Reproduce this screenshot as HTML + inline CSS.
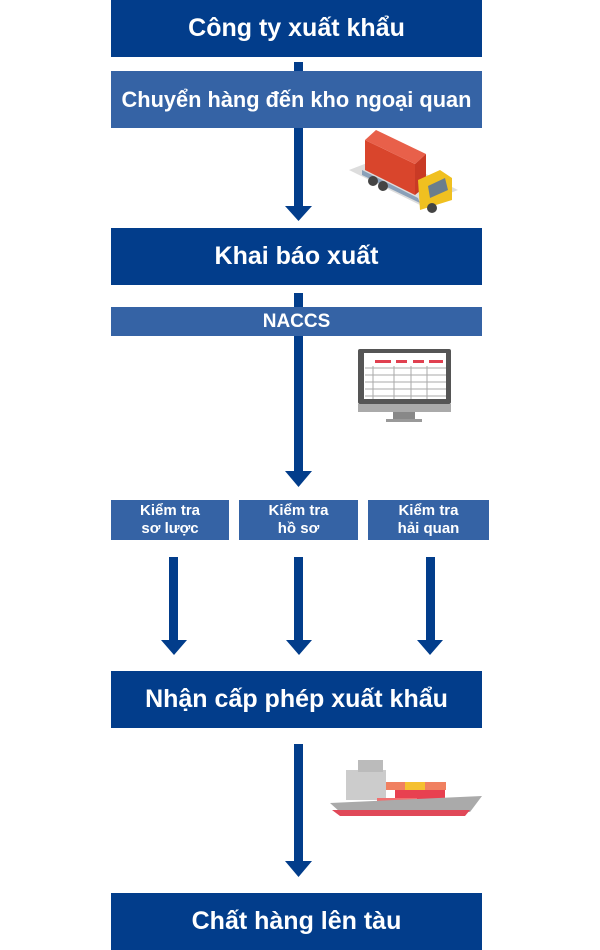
<!DOCTYPE html>
<html><head><meta charset="utf-8"><style>
html,body{margin:0;padding:0;background:#fff;}
body{width:600px;height:950px;position:relative;overflow:hidden;font-family:"Liberation Sans",Arial,sans-serif;}
.b{position:absolute;color:#fff;font-weight:bold;display:flex;align-items:center;justify-content:center;text-align:center;white-space:nowrap;}
.d{background:#023d8b;}
.l{background:#3563a5;}
svg{position:absolute;left:0;top:0;}
</style></head><body>
<div class="b d" style="left:111px;top:0;width:371px;height:57px;font-size:25px;">Công ty xuất khẩu</div>
<div class="b l" style="left:111px;top:71px;width:371px;height:57px;font-size:21.8px;">Chuyển hàng đến kho ngoại quan</div>
<div class="b d" style="left:111px;top:228px;width:371px;height:57px;font-size:25px;">Khai báo xuất</div>
<div class="b l" style="left:111px;top:307px;width:371px;height:29px;font-size:19px;">NACCS</div>
<div class="b l" style="left:111px;top:500px;width:118px;height:40px;font-size:15px;line-height:18px;">Kiểm tra<br>sơ lược</div>
<div class="b l" style="left:239px;top:500px;width:119px;height:40px;font-size:15px;line-height:18px;">Kiểm tra<br>hồ sơ</div>
<div class="b l" style="left:368px;top:500px;width:121px;height:40px;font-size:15px;line-height:18px;">Kiểm tra<br>hải quan</div>
<div class="b d" style="left:111px;top:671px;width:371px;height:57px;font-size:25px;">Nhận cấp phép xuất khẩu</div>
<div class="b d" style="left:111px;top:893px;width:371px;height:57px;font-size:25px;">Chất hàng lên tàu</div>
<svg width="600" height="950" viewBox="0 0 600 950">
<g fill="#023d8b">
<rect x="294" y="62" width="9" height="9"/>
<rect x="294" y="128" width="9" height="79"/><polygon points="285,206 312,206 298.5,221"/>
<rect x="294" y="293" width="9" height="14"/>
<rect x="294" y="336" width="9" height="136"/><polygon points="285,471 312,471 298.5,487"/>
<rect x="169" y="557" width="9" height="84"/><polygon points="161,640 187,640 174,655"/>
<rect x="294" y="557" width="9" height="84"/><polygon points="286,640 312,640 299,655"/>
<rect x="426" y="557" width="9" height="84"/><polygon points="417,640 443,640 430,655"/>
<rect x="294" y="744" width="9" height="118"/><polygon points="285,861 312,861 298.5,877"/>
</g>
<!-- truck -->
<polygon points="349,170 420,205 458,190 388,155" fill="#ddd"/>
<polygon points="365,140 415,164 415,195 365,170" fill="#d9452c"/>
<polygon points="365,140 376,130 426,154 415,164" fill="#e8604a"/>
<polygon points="415,164 426,154 426,186 415,195" fill="#c93a25"/>
<polygon points="362,170 418,198 420,203 362,175" fill="#8aa0b8"/>
<polygon points="418,180 440,170 452,178 452,200 420,210" fill="#f0c020"/>
<polygon points="428,186 445,178 448,190 430,198" fill="#6b7d8c"/>
<circle cx="373" cy="181" r="5" fill="#444"/><circle cx="383" cy="186" r="5" fill="#444"/><circle cx="432" cy="208" r="5" fill="#444"/>
<!-- monitor -->
<rect x="358" y="349" width="93" height="55" rx="2" fill="#555"/>
<rect x="364" y="353" width="82" height="46" fill="#fff"/>
<rect x="358" y="404" width="93" height="8" fill="#aaa"/>
<rect x="393" y="412" width="22" height="7" fill="#888"/><rect x="386" y="419" width="36" height="3" fill="#999"/>
<g fill="#e04050"><rect x="375" y="360" width="16" height="3"/><rect x="396" y="360" width="11" height="3"/><rect x="413" y="360" width="11" height="3"/><rect x="429" y="360" width="14" height="3"/></g>
<g stroke="#aaa" stroke-width="1" fill="none"><path d="M365 368H446M365 375H446M365 382H446M365 389H446M365 396H446M373 366V399M394 366V399M411 366V399M427 366V399"/></g>
<!-- ship -->
<rect x="346" y="770" width="40" height="30" fill="#ccc"/>
<rect x="358" y="760" width="25" height="12" fill="#bbb"/>
<rect x="386" y="782" width="60" height="8" fill="#f08060"/>
<rect x="405" y="782" width="20" height="8" fill="#f5c030"/>
<rect x="395" y="790" width="50" height="12" fill="#e84050"/>
<rect x="377" y="798" width="40" height="10" fill="#f07070"/>
<polygon points="330,803 482,796 470,812 340,812" fill="#aaa"/>
<polygon points="332,810 470,810 465,816 340,816" fill="#e04858"/>
</svg>
</body></html>
